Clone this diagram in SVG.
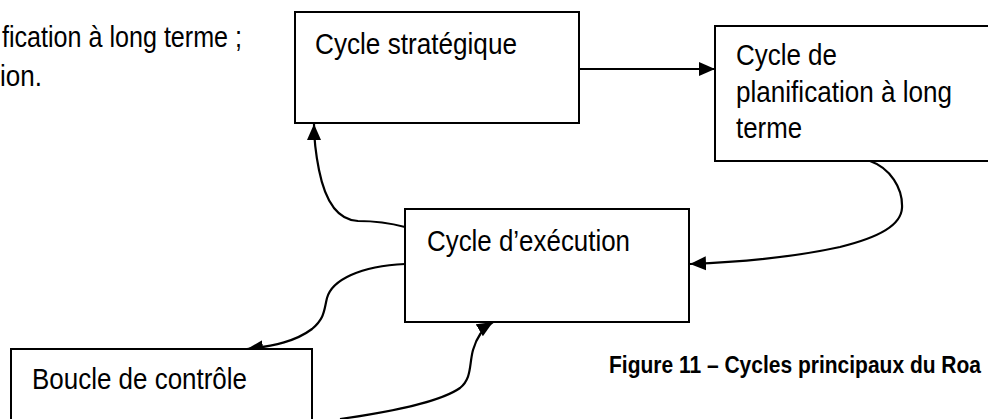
<svg xmlns="http://www.w3.org/2000/svg" width="988" height="419" viewBox="0 0 988 419">
<style>
.box{fill:#fff;stroke:#000;stroke-width:2}
.lbl{font-family:"Liberation Sans",Arial,sans-serif;font-size:30px;fill:#000}
.cap{font-family:"Liberation Sans",Arial,sans-serif;font-size:24px;font-weight:bold;fill:#000}
.con{fill:none;stroke:#000;stroke-width:2.2}
</style>
<defs>
<marker id="arr" markerUnits="userSpaceOnUse" markerWidth="17" markerHeight="15" refX="16" refY="7.5" orient="auto">
<path d="M0,0.5 L16,7.5 L0,14.5 z" fill="#000"/>
</marker>
</defs>
<rect width="988" height="419" fill="#fff"/>
<g id="intro-text">
<text class="lbl" x="242" y="47" text-anchor="end" textLength="240" lengthAdjust="spacingAndGlyphs">fication à long terme ;</text>
<text class="lbl" x="42" y="86" text-anchor="end" textLength="42" lengthAdjust="spacingAndGlyphs">ion.</text>
</g>
<g id="connectors">
<path class="con" d="M579,69 L715,69" marker-end="url(#arr)"/>
<path class="con" d="M870,161 C890,168 903,188 902,208 C901,225 880,237 840,247 C790,258 740,262 690,264" marker-end="url(#arr)"/>
<path class="con" d="M405,227 C390,223 370,221 358,221 C335,220 324,195 319,170 C316,155 314,140 314,124" marker-end="url(#arr)"/>
<path class="con" d="M405,264 C360,266 332,280 327,298 C324,310 325,318 312,329 C296,341 275,346 247,349" marker-end="url(#arr)"/>
<path class="con" d="M340,419 C390,412 440,402 460,388 C472,378 469,365 473,350 C477,336 483,328 493,322" marker-end="url(#arr)"/>
</g>
<g id="node-strategique">
<rect class="box" x="295" y="12" width="284" height="111"/>
<text class="lbl" x="315" y="54" textLength="202" lengthAdjust="spacingAndGlyphs">Cycle stratégique</text>
</g>
<g id="node-planification">
<rect class="box" x="715" y="26" width="290" height="135"/>
<text class="lbl" x="736" y="65" textLength="101" lengthAdjust="spacingAndGlyphs">Cycle de</text>
<text class="lbl" x="736" y="101.5" textLength="216" lengthAdjust="spacingAndGlyphs">planification à long</text>
<text class="lbl" x="736" y="138" textLength="66" lengthAdjust="spacingAndGlyphs">terme</text>
</g>
<g id="node-execution">
<rect class="box" x="405" y="209" width="284" height="113"/>
<text class="lbl" x="427" y="251" textLength="203" lengthAdjust="spacingAndGlyphs">Cycle d’exécution</text>
</g>
<g id="node-controle">
<rect class="box" x="11" y="349" width="301" height="90"/>
<text class="lbl" x="32" y="389" textLength="215" lengthAdjust="spacingAndGlyphs">Boucle de contrôle</text>
</g>
<g id="caption">
<text class="cap" transform="translate(609,373) scale(0.875,1)" x="0" y="0">Figure 11 – Cycles principaux du Roa</text>
</g>
</svg>
